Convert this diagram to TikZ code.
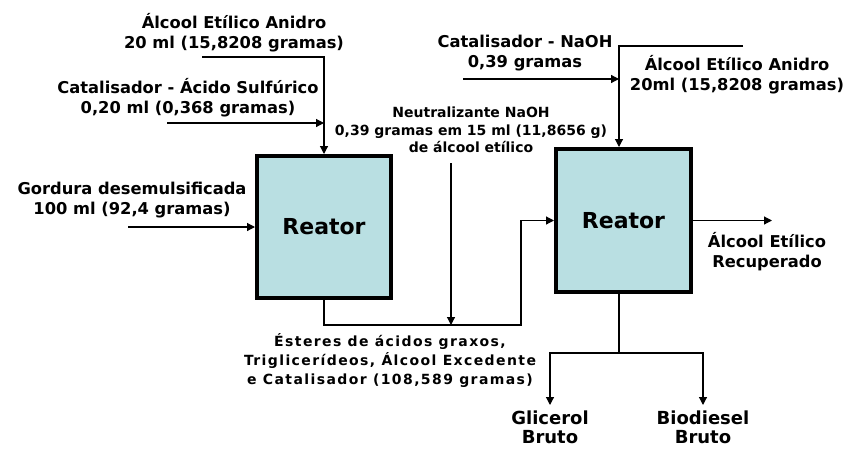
\documentclass[tikz,border=0pt]{standalone}
\usepackage{fontspec}
\setmainfont{DejaVu Sans}
\usetikzlibrary{arrows.meta}
\definecolor{reatorfill}{RGB}{185,223,226}
\tikzset{
  reator/.style={draw, line width=4pt, fill=reatorfill, font=\bfseries\fontsize{22}{26}\selectfont},
  lbl/.style={align=center, inner sep=1pt, font=\bfseries\fontsize{16.3}{20}\selectfont},
  lblsmall/.style={align=center, inner sep=1pt, font=\bfseries\fontsize{14}{17.5}\selectfont},
  lblwide/.style={align=center, inner sep=1pt, font=\bfseries\fontsize{14}{19}\selectfont\addfontfeatures{LetterSpace=10}},
  prod/.style={align=center, anchor=north, inner xsep=1pt, inner ysep=6pt, font=\bfseries\fontsize{18}{18.5}\selectfont},
  flow/.style={line width=1.2pt, -{Triangle[length=8pt,width=8pt]}},
  pipe/.style={line width=1.2pt}
}
\begin{document}
\begin{tikzpicture}[x=1pt,y=-1pt]
        \useasboundingbox (0,0) rectangle (849,450);
        % Reactors
        \node[reator, minimum width=134pt, minimum height=142pt] (r1) at (324,227) {Reator};
        \node[reator, minimum width=135pt, minimum height=143pt] (r2) at (623.5,220.5) {Reator};
        % Labels
        \node[lbl] (etanol1) at (234,33) {Álcool Etílico Anidro\\20 ml (15,8208 gramas)};
        \node[lbl] (acido) at (188,97.5) {Catalisador - Ácido Sulfúrico\\0,20 ml (0,368 gramas)};
        \node[lbl] (gordura) at (132,200.5) {Gordura desemulsificada\\100 ml (92,4 gramas)};
        \node[lblsmall] (neutral) at (471,130) {Neutralizante NaOH\\0,39 gramas em 15 ml (11,8656 g)\\de álcool etílico};
        \node[lblwide] (esteres) at (390,361) {Ésteres de ácidos graxos,\\Triglicerídeos, Álcool Excedente\\e Catalisador (108,589 gramas)};
        \node[lbl] (naoh) at (525,53) {Catalisador - NaOH\\0,39 gramas};
        \node[lbl] (etanol2) at (737,75) {Álcool Etílico Anidro\\20ml (15,8208 gramas)};
        \node[lbl] (recup) at (767,252) {Álcool Etílico\\Recuperado};
        \node[prod] (glicerol) at (550,405) {Glicerol\\Bruto};
        \node[prod] (biodiesel) at (703,405) {Biodiesel\\Bruto};
        % Feeds into first reactor
        \coordinate (e1) at (202,57);
        \coordinate (e2) at (167,123);
        \coordinate (e3) at (128,227);
        \draw[flow] (e1) -| (r1.north);
        \draw[flow] (e2) -- (e2 -| r1.north);
        \draw[flow] (e3) -- (r1.west);
        % Transfer to second reactor, with neutraliser
        \coordinate (t1) at (521,325);
        \coordinate (n1) at (451,163);
        \draw[flow] (r1.south) |- (t1) |- (r2.west);
        \draw[flow] (n1) -- (n1 |- t1);
        % Feeds into second reactor
        \coordinate (r2top) at ([xshift=-4.5pt]r2.north);
        \coordinate (e4) at (463,79);
        \coordinate (e5) at (743,46);
        \coordinate (e6) at (772,220.5);
        \draw[flow] (e5) -| (r2top);
        \draw[flow] (e4) -- (e4 -| r2top);
        \draw[flow] (r2.east) -- (e6);
        % Products
        \coordinate (s1) at (619,353);
        \draw[pipe] (r2top |- r2.south) -- (s1);
        \draw[flow] (s1) -| (glicerol.north);
        \draw[flow] (s1) -| (biodiesel.north);
\end{tikzpicture}
\end{document}
